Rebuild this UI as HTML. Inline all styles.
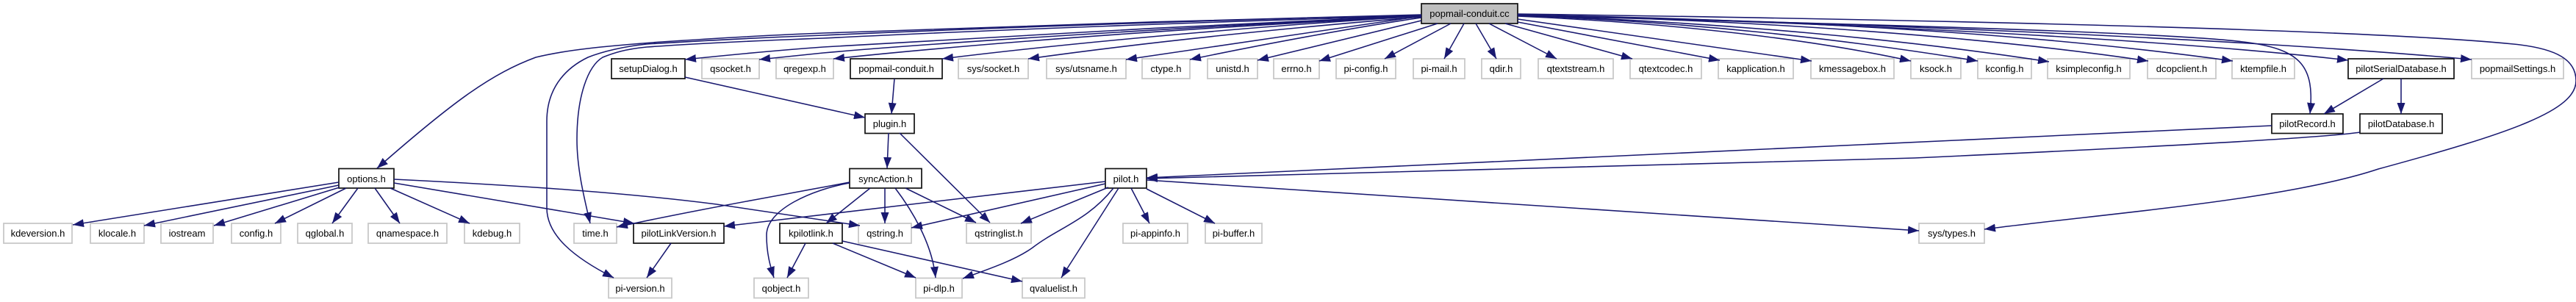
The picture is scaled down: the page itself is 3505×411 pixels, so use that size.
<!DOCTYPE html>
<html><head><meta charset="utf-8"><style>
html,body{margin:0;padding:0;background:#fff;width:3505px;height:411px;overflow:hidden}
svg{display:block}
text{font-family:"Liberation Sans",sans-serif;font-size:13px;text-anchor:middle;fill:#000}
.g{fill:#fff;stroke:#c8c8c8;stroke-width:1.8}
.b{fill:#fff;stroke:#111;stroke-width:1.7}
.e path{fill:none;stroke:#191970;stroke-width:1.55}
</style></head><body>
<svg width="3505" height="411" viewBox="0 0 3505 411" xmlns="http://www.w3.org/2000/svg">
<defs><marker id="a" markerUnits="userSpaceOnUse" viewBox="0 0 15 11" refX="15" refY="5.5" markerWidth="15" markerHeight="11" orient="auto"><path d="M0,0 L15,5.5 L0,11 Z" fill="#191970"/></marker></defs>

<rect x="1934" y="5" width="131" height="27" fill="#bfbfbf" stroke="#111" stroke-width="1.7"/><text x="1999.5" y="23">popmail-conduit.cc</text>

<rect class="b" x="832" y="80" width="100" height="27"/><text x="882" y="98">setupDialog.h</text>
<rect class="g" x="955" y="80" width="78" height="27"/><text x="994" y="98">qsocket.h</text>
<rect class="g" x="1056" y="80" width="78" height="27"/><text x="1095" y="98">qregexp.h</text>
<rect class="b" x="1157" y="80" width="125" height="27"/><text x="1219.5" y="98">popmail-conduit.h</text>
<rect class="g" x="1304" y="80" width="95" height="27"/><text x="1351.5" y="98">sys/socket.h</text>
<rect class="g" x="1424" y="80" width="108" height="27"/><text x="1478" y="98">sys/utsname.h</text>
<rect class="g" x="1554" y="80" width="65" height="27"/><text x="1586.5" y="98">ctype.h</text>
<rect class="g" x="1643" y="80" width="68" height="27"/><text x="1677" y="98">unistd.h</text>
<rect class="g" x="1733" y="80" width="62" height="27"/><text x="1764" y="98">errno.h</text>
<rect class="g" x="1818" y="80" width="81" height="27"/><text x="1858.5" y="98">pi-config.h</text>
<rect class="g" x="1923" y="80" width="70" height="27"/><text x="1958" y="98">pi-mail.h</text>
<rect class="g" x="2016" y="80" width="53" height="27"/><text x="2042.5" y="98">qdir.h</text>
<rect class="g" x="2093" y="80" width="102" height="27"/><text x="2144" y="98">qtextstream.h</text>
<rect class="g" x="2218" y="80" width="97" height="27"/><text x="2266.5" y="98">qtextcodec.h</text>
<rect class="g" x="2338" y="80" width="102" height="27"/><text x="2389" y="98">kapplication.h</text>
<rect class="g" x="2464" y="80" width="113" height="27"/><text x="2520.5" y="98">kmessagebox.h</text>
<rect class="g" x="2600" y="80" width="68" height="27"/><text x="2634" y="98">ksock.h</text>
<rect class="g" x="2691" y="80" width="73" height="27"/><text x="2727.5" y="98">kconfig.h</text>
<rect class="g" x="2786" y="80" width="112" height="27"/><text x="2842" y="98">ksimpleconfig.h</text>
<rect class="g" x="2922" y="80" width="93" height="27"/><text x="2968.5" y="98">dcopclient.h</text>
<rect class="g" x="3037" y="80" width="85" height="27"/><text x="3079.5" y="98">ktempfile.h</text>
<rect class="b" x="3195" y="80" width="144" height="27"/><text x="3267" y="98">pilotSerialDatabase.h</text>
<rect class="g" x="3363" y="80" width="125" height="27"/><text x="3425.5" y="98">popmailSettings.h</text>

<rect class="b" x="1177" y="155" width="67" height="26.500"/><text x="1210.5" y="173">plugin.h</text>
<rect class="b" x="3091" y="155" width="97" height="26.500"/><text x="3139.5" y="173">pilotRecord.h</text>
<rect class="b" x="3211" y="155" width="112" height="26.500"/><text x="3267" y="173">pilotDatabase.h</text>

<rect class="b" x="461" y="229.500" width="75" height="26.500"/><text x="498.500" y="248">options.h</text>
<rect class="b" x="1156" y="229.500" width="98" height="26.500"/><text x="1205" y="248">syncAction.h</text>
<rect class="b" x="1504" y="229.500" width="56" height="26.500"/><text x="1532" y="248">pilot.h</text>

<rect class="g" x="5" y="304" width="93" height="27"/><text x="51.500" y="322">kdeversion.h</text>
<rect class="g" x="123" y="304" width="73" height="27"/><text x="159.500" y="322">klocale.h</text>
<rect class="g" x="219" y="304" width="71" height="27"/><text x="254.500" y="322">iostream</text>
<rect class="g" x="315" y="304" width="67" height="27"/><text x="348.500" y="322">config.h</text>
<rect class="g" x="405" y="304" width="74" height="27"/><text x="442" y="322">qglobal.h</text>
<rect class="g" x="501" y="304" width="107" height="27"/><text x="554.500" y="322">qnamespace.h</text>
<rect class="g" x="632" y="304" width="75" height="27"/><text x="669.500" y="322">kdebug.h</text>
<rect class="g" x="781" y="304" width="58" height="27"/><text x="810" y="322">time.h</text>
<rect class="b" x="862" y="304" width="123" height="27"/><text x="923.500" y="322">pilotLinkVersion.h</text>
<rect class="b" x="1061" y="304" width="85" height="27"/><text x="1103.500" y="322">kpilotlink.h</text>
<rect class="g" x="1168" y="304" width="72" height="27"/><text x="1204" y="322">qstring.h</text>
<rect class="g" x="1315" y="304" width="88" height="27"/><text x="1359" y="322">qstringlist.h</text>
<rect class="g" x="1528" y="304" width="88" height="27"/><text x="1572" y="322">pi-appinfo.h</text>
<rect class="g" x="1640" y="304" width="77" height="27"/><text x="1678.500" y="322">pi-buffer.h</text>
<rect class="g" x="2611" y="304" width="89" height="27"/><text x="2655.500" y="322">sys/types.h</text>

<rect class="g" x="828" y="378.500" width="86" height="27"/><text x="871" y="397">pi-version.h</text>
<rect class="g" x="1026" y="378.500" width="74" height="27"/><text x="1063" y="397">qobject.h</text>
<rect class="g" x="1246" y="378.500" width="63" height="27"/><text x="1277.500" y="397">pi-dlp.h</text>
<rect class="g" x="1391" y="378.500" width="85" height="27"/><text x="1433.500" y="397">qvaluelist.h</text>

<g class="e" marker-end="url(#a)">
<path d="M1934,20 C1700,25 1300,38 1120,45 C1040,48 960,53 900,57 C820,63 770,68 729,78 C670,100 620,135 513,229"/>
<path d="M1934,21 C1700,25 1300,40 1120,48 C1040,51 960,55 880,60 C850,63 820,70 800,78 C775,90 744,115 744,165 L744,283 C744,320 780,350 835,378"/>
<path d="M1934,22 C1700,27 1300,43 1120,52 C1040,55 950,59 880,64 C850,67 835,72 820,78 C800,90 785,130 785,190 C785,230 795,270 803,304"/>
<path d="M1934,21 C1700,31 1300,52 1120,64 C1050,69 990,75 932,81"/>
<path d="M1934,22 C1700,32 1300,56 1120,72 C1090,75 1060,78 1033,81"/>
<path d="M1934,22 C1720,33 1400,52 1134,80"/>
<path d="M1934,22 C1780,31 1500,53 1282,80"/>
<path d="M1934,23 C1800,34 1600,52 1399,80"/>
<path d="M1934,22 L1532,81"/>
<path d="M1934,24 C1850,36 1720,60 1619,81"/>
<path d="M1934,28 L1711,82"/>
<path d="M1956,32 L1795,83"/>
<path d="M1974,32 L1884,80"/>
<path d="M1992,32 L1965,80"/>
<path d="M2008,32 L2036,80"/>
<path d="M2026,32 L2118,80"/>
<path d="M2048,32 L2221,80"/>
<path d="M2065,30 L2340,82"/>
<path d="M2065,26 L2465,83"/>
<path d="M2065,22 C2250,30 2450,50 2600,83"/>
<path d="M2065,21 C2300,30 2500,52 2691,83"/>
<path d="M2065,21 C2350,30 2600,55 2788,84"/>
<path d="M2065,20 C2400,28 2700,50 2923,83"/>
<path d="M2065,20 C2500,28 2800,50 3038,83"/>
<path d="M2065,20 C2400,28 2900,48 3195,82"/>
<path d="M2065,20 C2400,28 3000,48 3363,81"/>
<path d="M2065,21 C2400,30 2950,42 3060,58 C3130,68 3150,90 3143,155"/>
<path d="M2065,19 C2500,25 3200,38 3420,60 C3480,66 3505,82 3505,110 C3505,150 3420,180 3236,230 C3110,272 2870,290 2700,312"/>

<path d="M3091,171 L1560,242"/>
<path d="M3211,180 C3170,186 3000,197 2605,215 L1560,243"/>
<path d="M1560,245 L2611,314"/>

<path d="M1504,247 L985,308"/>
<path d="M1504,250 L1240,310"/>
<path d="M1508,255 L1389,304"/>
<path d="M1515,256 C1480,300 1440,310 1405,337 C1380,355 1340,368 1310,379"/>
<path d="M1522,256 L1444,378"/>
<path d="M1539,256 L1564,304"/>
<path d="M1560,257 L1653,304"/>

<path d="M1156,248 C1050,268 950,285 839,309"/>
<path d="M1184,256 L1124,304"/>
<path d="M1204,256 L1204,304"/>
<path d="M1232,256 L1328,303"/>
<path d="M1218,256 C1240,285 1268,330 1273,378"/>
<path d="M1156,249 C1105,258 1043,285 1043,320 C1043,345 1048,362 1053,378"/>

<path d="M1209,181 L1207,229"/>
<path d="M1224,181 L1347,303"/>
<path d="M1217,107 L1213,155"/>
<path d="M932,105 L1177,160"/>

<path d="M1096,331 L1071,378"/>
<path d="M1133,331 L1246,378"/>
<path d="M1146,328 L1391,383"/>
<path d="M913,331 L880,378"/>

<path d="M461,248 L99,306"/>
<path d="M461,252 L196,307"/>
<path d="M462,255 L291,307"/>
<path d="M471,256 L374,304"/>
<path d="M487,256 L452,304"/>
<path d="M510,256 L544,304"/>
<path d="M531,256 L639,304"/>
<path d="M536,249 L863,304"/>
<path d="M536,244 C700,252 850,262 975,278 L1170,307"/>

<path d="M3243,107 L3162,155"/>
<path d="M3267,107 L3267,155"/>
</g>
</svg>
</body></html>
